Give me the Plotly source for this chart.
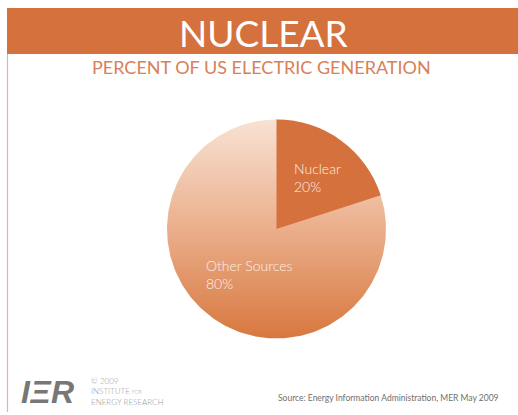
import numpy as np
import plotly.graph_objects as go

# Share of US electric generation, 2009
labels = ["Nuclear", "Other Sources"]
shares = [20, 80]

W, H = 518, 415
ORANGE = "#d5713c"
FONT = "Lato"

# pie geometry in pixels
cx, cy, r = 276.5, 229.0, 109.5

fig = go.Figure()

# gradient disk that shows through the "Other Sources" slice
t = np.linspace(0, 2 * np.pi, 361)
fig.add_trace(go.Scatter(
    x=cx + r * np.sin(t), y=cy - r * np.cos(t),
    mode="lines", line=dict(width=0), fill="toself",
    fillgradient=dict(type="vertical", start=cy - r, stop=cy + r,
                      colorscale=[[0, "#f8e2d3"], [0.45, "#ecb493"], [1, "#d8773e"]]),
    hoverinfo="skip", showlegend=False,
))

fig.add_trace(go.Pie(
    labels=labels, values=shares, sort=False, direction="clockwise", rotation=0,
    marker=dict(colors=[ORANGE, "rgba(0,0,0,0)"], line=dict(width=0)),
    textinfo="none", showlegend=False,
    domain=dict(x=[(cx - r) / W, (cx + r) / W],
                y=[(H - cy - r) / H, (H - cy + r) / H]),
))

# slice labels, built from the same values
label_pos = {"Nuclear": (292, 177), "Other Sources": (204, 274)}
for lab, val in zip(labels, shares):
    x0, y0 = label_pos[lab]
    fig.add_annotation(x=x0, y=y0, xref="x", yref="y", xanchor="left", yanchor="middle",
                       text=f"{lab}<br>{val}%", showarrow=False, align="left",
                       font=dict(family=FONT, size=14, weight=300, color="#fdf0e7"))

# header band and left rule
fig.add_shape(type="rect", xref="x", yref="y", x0=7, x1=W, y0=8, y1=54,
              fillcolor=ORANGE, line=dict(width=0), layer="below")
fig.add_shape(type="line", xref="x", yref="y", x0=7.5, x1=7.5, y0=54, y1=412,
              line=dict(color="#e8b49c", width=1.2), layer="below")

fig.add_annotation(x=263, y=32, xref="x", yref="y", text="NUCLEAR", showarrow=False,
                   font=dict(family=FONT, size=37, color="white"))
fig.add_annotation(x=261, y=67, xref="x", yref="y", text="PERCENT OF US ELECTRIC GENERATION",
                   showarrow=False, font=dict(family=FONT, size=18, color="#d98056"))

# footer
fig.add_annotation(x=19, y=392, xref="x", yref="y", xanchor="left", text="<b><i>IΞR</i></b>",
                   showarrow=False, font=dict(family="Liberation Sans", size=32, color="#777777"))
fig.add_annotation(x=89, y=391, xref="x", yref="y", xanchor="left", align="left",
                   text="© 2009<br>INSTITUTE <span style='font-size:5px'>FOR</span><br>ENERGY RESEARCH",
                   showarrow=False, font=dict(family=FONT, size=8, weight=300, color="#9a9a9a"))
fig.add_annotation(x=501, y=398, xref="x", yref="y", xanchor="right",
                   text="Source: Energy Information Administration, MER May 2009",
                   showarrow=False, font=dict(family=FONT, size=8.5, color="#6f6f6f"))

fig.update_layout(
    width=W, height=H, margin=dict(l=0, r=0, t=0, b=0),
    paper_bgcolor="white", plot_bgcolor="white",
    xaxis=dict(range=[0, W], visible=False, fixedrange=True),
    yaxis=dict(range=[H, 0], visible=False, fixedrange=True),
)

fig.write_html("out.html")
